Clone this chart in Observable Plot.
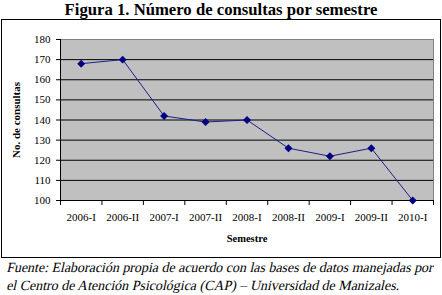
<!DOCTYPE html>
<html>
<head>
<meta charset="utf-8">
<script src="https://cdn.jsdelivr.net/npm/d3@7"></script>
<script src="https://cdn.jsdelivr.net/npm/@observablehq/plot@0.6"></script>
<style>
  html, body { margin: 0; padding: 0; background: #fff; }
  #page { position: relative; width: 442px; height: 295px; overflow: hidden; background: #fff; font-family: "Liberation Serif", "Times New Roman", "DejaVu Serif", serif; color: #000; }
  #title { position: absolute; left: 0; top: 0; width: 442px; text-align: center; font-weight: bold; font-size: 16.7px; line-height: 20px; }
  #box { position: absolute; left: 1px; top: 19px; width: 438px; height: 237px; border: 1px solid #000; }
  #box svg { display: block; }
  #caption { position: absolute; left: 5px; top: 259px; width: 440px; font-size: 13.5px; line-height: 18px; white-space: nowrap; }
  #caption span { display: inline-block; transform: skewX(-13deg); transform-origin: 0 100%; }
</style>
</head>
<body>
<div id="page">
  <div id="title">Figura 1. Número de consultas por semestre</div>
  <div id="box"></div>
  <div id="caption"><span id="cap1">Fuente: Elaboración propia de acuerdo con las bases de datos manejadas por</span><br><span id="cap2">el Centro de Atención Psicológica (CAP) – Universidad de Manizales.</span></div>
</div>
<script>
const categories = ["2006-I", "2006-II", "2007-I", "2007-II", "2008-I", "2008-II", "2009-I", "2009-II", "2010-I"];
const consultas = [168, 170, 142, 139, 140, 126, 122, 126, 100];
const yTicks = [100, 110, 120, 130, 140, 150, 160, 170, 180];
const gridTicks = [110, 120, 130, 140, 150, 160, 170];
const yLabel = "No. de consultas";
const xLabel = "Semestre";

const data = categories.map((c, i) => ({i, c, v: consultas[i]}));
const idx = categories.map((_, i) => i);
const bounds = d3.range(categories.length + 1).map(i => i - 0.5);

const chart = Plot.plot({
  width: 438,
  height: 237,
  marginLeft: 58,
  marginRight: 7,
  marginTop: 19,
  marginBottom: 57,
  style: {fontFamily: "'Liberation Serif', 'Times New Roman', serif", fontSize: "11px", color: "#000", background: "transparent", overflow: "visible"},
  x: {type: "linear", domain: [-0.5, categories.length - 0.5], axis: null},
  y: {domain: [100, 180], axis: null},
  marks: [
    Plot.frame({fill: "#c0c0c0", stroke: "#808080"}),
    Plot.ruleY(gridTicks, {stroke: "#000", strokeWidth: 1}),
    Plot.ruleY([100], {stroke: "#000"}),
    Plot.ruleX([-0.5], {y1: 100, y2: 180, stroke: "#000"}),
    Plot.axisY({ticks: yTicks, tickSize: 4, tickPadding: 6, tickFormat: d => d, fontSize: 11, stroke: "#000", label: null}),
    Plot.axisX({ticks: bounds, tickSize: 5, tickFormat: () => "", stroke: "#000", label: null}),
    Plot.axisX({ticks: idx, tickSize: 0, tickPadding: 13, tickFormat: i => categories[i], fontSize: 11, label: null}),
    Plot.line(data, {x: "i", y: "v", stroke: "#1c1c8a", strokeWidth: 1}),
    Plot.dot(data, {x: "i", y: "v", symbol: "diamond2", r: 3.6, fill: "#000080", stroke: "none"}),
    Plot.text([yLabel], {frameAnchor: "left", textAnchor: "middle", dx: -44, rotate: -90, fontWeight: "bold", fontSize: 11}),
    Plot.text([xLabel], {frameAnchor: "bottom", dy: 41, fontWeight: "bold", fontSize: 10.5})
  ]
});
document.getElementById("box").appendChild(chart);

// fit caption first line to the reference width (~433px)
const cap = document.getElementById("caption");
const cap1 = document.getElementById("cap1");
const w = cap1.getBoundingClientRect().width;
if (w > 0) {
  const fs = 13.5 * 431 / w;
  cap.style.fontSize = fs.toFixed(2) + "px";
}
</script>
</body>
</html>
